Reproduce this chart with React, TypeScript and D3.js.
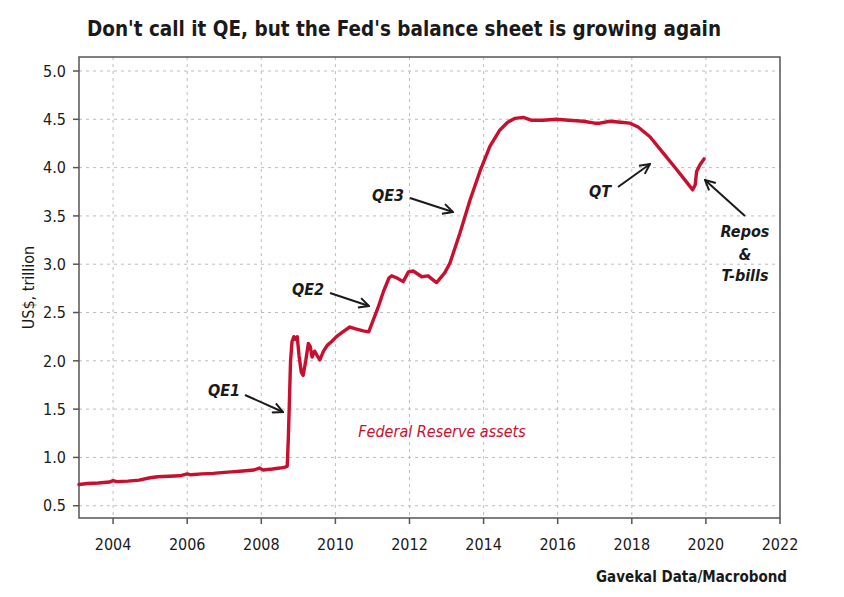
import React from 'react';
import * as d3 from 'd3';

// Fed balance sheet, decimal year -> US$ trillion
const dates = [
  2003.08, 2003.3, 2003.6, 2003.9, 2004.0, 2004.1, 2004.4, 2004.7, 2005.0, 2005.2,
  2005.5, 2005.8, 2006.0, 2006.1, 2006.4, 2006.7, 2007.0, 2007.2, 2007.5, 2007.8,
  2007.95, 2008.05, 2008.3, 2008.5, 2008.65, 2008.7, 2008.73, 2008.76, 2008.79, 2008.83,
  2008.88, 2008.92, 2008.97, 2009.02, 2009.08, 2009.13, 2009.2, 2009.27, 2009.32, 2009.37,
  2009.44, 2009.5, 2009.58, 2009.68, 2009.78, 2009.9, 2010.03, 2010.2, 2010.39, 2010.55,
  2010.75, 2010.9, 2011.0, 2011.15, 2011.3, 2011.45, 2011.52, 2011.65, 2011.83, 2011.97,
  2012.1, 2012.33, 2012.5, 2012.73, 2012.95, 2013.09, 2013.36, 2013.63, 2013.9, 2014.17,
  2014.44, 2014.65, 2014.85, 2015.07, 2015.3, 2015.6, 2015.97, 2016.3, 2016.69, 2017.0,
  2017.14, 2017.41, 2017.7, 2017.95, 2018.17, 2018.49, 2018.85, 2019.21, 2019.48, 2019.64,
  2019.71, 2019.75, 2019.84, 2019.95,
];
const assets = [
  0.72, 0.73, 0.735, 0.745, 0.76, 0.75, 0.755, 0.765, 0.79, 0.8,
  0.805, 0.81, 0.83, 0.82, 0.83, 0.835, 0.845, 0.85, 0.86, 0.87,
  0.89, 0.87, 0.88, 0.89, 0.9, 0.91, 1.2, 1.6, 2.0, 2.2,
  2.25, 2.22, 2.25, 2.05, 1.88, 1.85, 2.0, 2.18, 2.15, 2.04,
  2.1, 2.06, 2.01, 2.1, 2.16, 2.2, 2.25, 2.3, 2.35, 2.33,
  2.31, 2.3, 2.4, 2.55, 2.72, 2.86, 2.88, 2.86, 2.82, 2.92,
  2.93, 2.87, 2.88, 2.81, 2.91, 3.01, 3.32, 3.66, 3.96, 4.22,
  4.39, 4.47, 4.51, 4.52, 4.49, 4.49, 4.5, 4.49, 4.48, 4.46,
  4.46, 4.48, 4.47, 4.46, 4.42, 4.32, 4.15, 3.98, 3.85, 3.77,
  3.82, 3.96, 4.03, 4.09,
];
const yearTicks = [2004, 2006, 2008, 2010, 2012, 2014, 2016, 2018, 2020, 2022];
const valueTicks = [0.5, 1.0, 1.5, 2.0, 2.5, 3.0, 3.5, 4.0, 4.5, 5.0];

const W = 844;
const H = 597;
const plot = { left: 79, right: 780, top: 57, bottom: 518 };
const FONT = "'Liberation Sans Narrow', 'DejaVu Sans Condensed', 'Roboto', sans-serif";
const RED = '#c8102e';
const INK = '#1a1a1a';

export default function App() {
  const x = d3.scaleLinear().domain([2003.08, 2022]).range([plot.left, plot.right]);
  const y = d3.scaleLinear().domain([0.373, 5.145]).range([plot.bottom, plot.top]);

  const points = dates.map((d, i) => [d, assets[i]] as [number, number]);
  const line = d3.line<[number, number]>()
    .x(d => x(d[0]))
    .y(d => y(d[1]));

  // annotation arrows, tail -> head
  const arrows = [
    { x1: 245, y1: 395, x2: 283, y2: 412 },
    { x1: 330, y1: 293, x2: 369, y2: 306 },
    { x1: 410, y1: 198, x2: 453, y2: 212 },
    { x1: 618, y1: 187, x2: 650, y2: 164 },
    { x1: 745, y1: 216, x2: 705, y2: 180 },
  ];

  return (
    <svg width={W} height={H} style={{ position: 'absolute', left: 0, top: 0, background: '#fff' }}>
      <defs>
        <marker id="head" viewBox="0 0 12 12" refX="11" refY="6" markerWidth="12" markerHeight="12"
          markerUnits="userSpaceOnUse" orient="auto">
          <path d="M1,1 L11,6 L1,11" fill="none" stroke={INK} strokeWidth={2} />
        </marker>
      </defs>

      <text x={87} y={36} fontFamily={FONT} fontWeight="bold" fontSize={21} fill={INK}
        textLength={634} lengthAdjust="spacingAndGlyphs">
        Don't call it QE, but the Fed's balance sheet is growing again
      </text>

      {/* grid */}
      {yearTicks.filter(t => t < 2022).map(t => (
        <line key={'gx' + t} x1={x(t)} x2={x(t)} y1={plot.top} y2={plot.bottom}
          stroke="#bdbdbd" strokeDasharray="3,4" />
      ))}
      {valueTicks.map(v => (
        <line key={'gy' + v} x1={plot.left} x2={plot.right} y1={y(v)} y2={y(v)}
          stroke="#bdbdbd" strokeDasharray="3,4" />
      ))}

      {/* frame */}
      <rect x={plot.left} y={plot.top} width={plot.right - plot.left} height={plot.bottom - plot.top}
        fill="none" stroke="#555" strokeWidth={1.5} />

      {/* y axis */}
      {valueTicks.map(v => (
        <g key={'ty' + v}>
          <line x1={plot.left - 6} x2={plot.left} y1={y(v)} y2={y(v)} stroke="#555" strokeWidth={1.5} />
          <text x={plot.left - 13} y={y(v)} dy="0.36em" textAnchor="end" fontFamily={FONT}
            fontSize={16} fill={INK}>{v.toFixed(1)}</text>
        </g>
      ))}
      <text transform={`translate(34,${(plot.top + plot.bottom) / 2}) rotate(-90)`} textAnchor="middle"
        fontFamily={FONT} fontSize={16} fill={INK}>US$, trillion</text>

      {/* x axis */}
      {yearTicks.map(t => (
        <g key={'tx' + t}>
          <line x1={x(t)} x2={x(t)} y1={plot.bottom} y2={plot.bottom + 6} stroke="#555" strokeWidth={1.5} />
          <text x={x(t)} y={plot.bottom + 32} textAnchor="middle" fontFamily={FONT}
            fontSize={16} fill={INK}>{t}</text>
        </g>
      ))}

      <path d={line(points) ?? ''} fill="none" stroke={RED} strokeWidth={3.4}
        strokeLinejoin="round" strokeLinecap="round" />

      <text x={442} y={437} textAnchor="middle" fontFamily={FONT} fontStyle="italic" fontSize={16}
        fill={RED}>Federal Reserve assets</text>

      {arrows.map((a, i) => (
        <line key={'ar' + i} x1={a.x1} y1={a.y1} x2={a.x2} y2={a.y2} stroke={INK} strokeWidth={2}
          markerEnd="url(#head)" />
      ))}
      <g fontFamily={FONT} fontStyle="italic" fontWeight="bold" fontSize={16} fill={INK} textAnchor="middle">
        <text x={224} y={396}>QE1</text>
        <text x={308} y={295}>QE2</text>
        <text x={388} y={201}>QE3</text>
        <text x={600} y={197}>QT</text>
        <text x={745} y={237}>Repos</text>
        <text x={745} y={260}>&amp;</text>
        <text x={745} y={281}>T-bills</text>
      </g>

      <text x={787} y={582} textAnchor="end" fontFamily={FONT} fontWeight="bold" fontSize={15}
        fill={INK}>Gavekal Data/Macrobond</text>
    </svg>
  );
}
